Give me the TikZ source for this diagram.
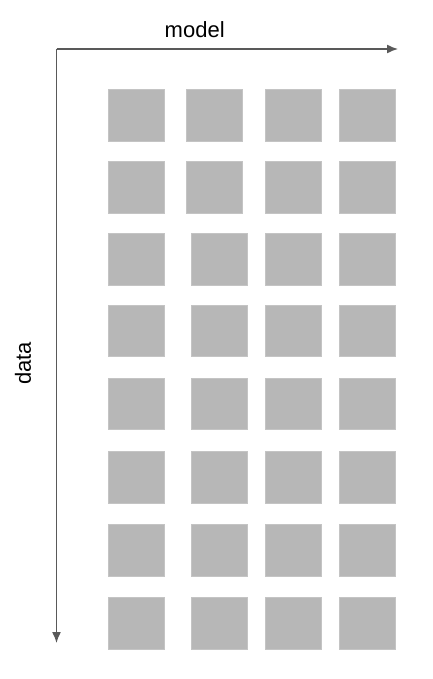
\documentclass[tikz,border=0pt]{standalone}
\usepackage{fontspec}
\setmainfont{Liberation Sans}
\usetikzlibrary{arrows.meta,positioning}
\definecolor{axisgray}{HTML}{595959}
\definecolor{shard}{HTML}{B7B7B7}
\definecolor{shardedge}{HTML}{C4C4C4}

\begin{document}
\begin{tikzpicture}[x=1pt,y=-1pt,
    shardbox/.style={draw=shardedge,line width=0.6pt,fill=shard,minimum width=56pt,
                     minimum height=51.5pt,inner sep=0pt},
    axis/.style={-{Latex[length=11pt,width=9pt]},line width=1.4pt,color=axisgray},
    lbl/.style={font=\fontsize{22}{24}\selectfont,inner sep=0pt}
  ]
    \useasboundingbox (0,0) rectangle (432,679);
    \coordinate (origin) at (56.5,49);
    \coordinate (modelend) at (398,49);
    \coordinate (dataend) at (56.5,643);
    \draw[axis] (origin)--(modelend);
    \draw[axis] (origin)--(dataend);
    \node[lbl] (model) at (194.7,29.5) {model};
    \node[lbl,rotate=90] (data) at (23,363.5) {data};
    % grid of shards, row by row
    \foreach \r/\y/\xb in {1/115.3/214.7,2/187.2/214.7,3/259.5/219.2,4/330.7/219.2,
                           5/403.6/219.2,6/477.2/219.2,7/550.3/219.2,8/623.5/219.2}{
      \node[shardbox] (s\r-1) at (136.5,\y) {};
      \node[shardbox] (s\r-2) at (\xb,\y) {};
      \node[shardbox] (s\r-3) at (293,\y) {};
      \node[shardbox] (s\r-4) at (367,\y) {};
    }
  \end{tikzpicture}
\end{document}
